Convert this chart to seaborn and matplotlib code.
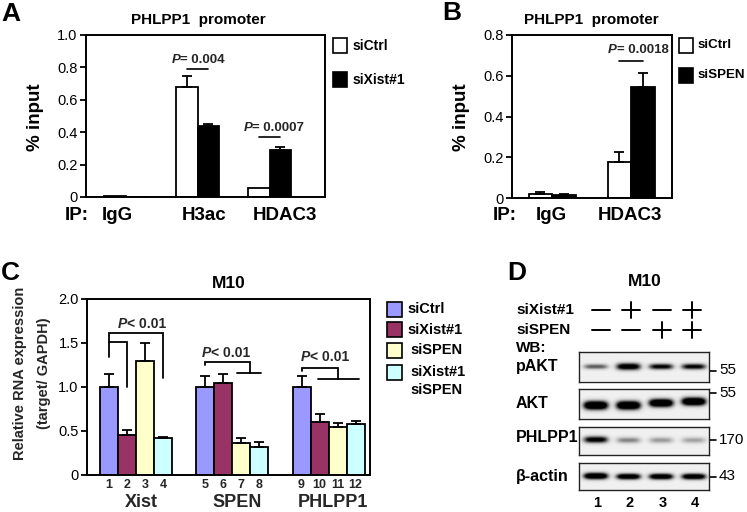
import numpy as np
import pandas as pd
import matplotlib
matplotlib.use("Agg")
import matplotlib.pyplot as plt
import seaborn as sns
from matplotlib.patches import Rectangle
from matplotlib.container import BarContainer
from matplotlib import font_manager

# ---------------- data ----------------
a_targets = ["IgG", "H3ac", "HDAC3"]
a_conditions = ["siCtrl", "siXist#1"]
a_ctrl = [0.005, 0.68, 0.055]
a_ctrl_err = [0.0, 0.07, 0.0]
a_xist = [0.001, 0.44, 0.29]
a_xist_err = [0.0, 0.008, 0.02]
a_pvals = {"H3ac": "0.004", "HDAC3": "0.0007"}

b_targets = ["IgG", "HDAC3"]
b_conditions = ["siCtrl", "siSPEN"]
b_ctrl = [0.02, 0.178]
b_ctrl_err = [0.008, 0.046]
b_spen = [0.013, 0.545]
b_spen_err = [0.005, 0.07]
b_pvals = {"HDAC3": "0.0018"}

c_genes = ["Xist", "SPEN", "PHLPP1"]
c_conditions = ["siCtrl", "siXist#1", "siSPEN", "siXist#1 siSPEN"]
c_siCtrl = [1.0, 1.0, 1.0]
c_siCtrl_err = [0.15, 0.13, 0.13]
c_siXist = [0.46, 1.05, 0.60]
c_siXist_err = [0.055, 0.10, 0.09]
c_siSPEN = [1.30, 0.36, 0.54]
c_siSPEN_err = [0.20, 0.06, 0.05]
c_both = [0.42, 0.32, 0.58]
c_both_err = [0.012, 0.05, 0.035]
c_colors = ["#9999FF", "#993366", "#FFFFCC", "#CCFFFF"]
c_ptext = "0.01"

d_lanes = [1, 2, 3, 4]
d_siXist = ["-", "+", "-", "+"]
d_siSPEN = ["-", "-", "+", "+"]
d_blots = ["pAKT", "AKT", "PHLPP1", "\u03b2-actin"]
d_markers = ["55", "55", "170", "43"]
d_intensity = {
    "pAKT": [0.6, 1.1, 0.95, 0.95],
    "AKT": [1.4, 1.4, 1.4, 1.4],
    "PHLPP1": [1.0, 0.45, 0.38, 0.35],
    "\u03b2-actin": [1.3, 1.2, 1.2, 1.2],
}
d_band_pos = {
    "pAKT": [0.52, 0.52, 0.52, 0.52],
    "AKT": [0.58, 0.58, 0.5, 0.45],
    "PHLPP1": [0.47, 0.49, 0.49, 0.49],
    "\u03b2-actin": [0.5, 0.52, 0.52, 0.52],
}
d_band_thick = {
    "pAKT": [0.09, 0.12, 0.1, 0.1],
    "AKT": [0.15, 0.15, 0.14, 0.14],
    "PHLPP1": [0.12, 0.11, 0.11, 0.11],
    "\u03b2-actin": [0.12, 0.11, 0.11, 0.11],
}

# ---------------- style ----------------
sns.set_theme(style="white")
avail = {f.name for f in font_manager.fontManager.ttflist}
fams = [f for f in ["Liberation Sans", "DejaVu Sans"] if f in avail]
plt.rcParams["font.family"] = fams

W, H = 747, 512
fig = plt.figure(figsize=(W / 100, H / 100), dpi=100)


def px_axes(l, t, r, b, **kw):
    return fig.add_axes([l / W, 1 - b / H, (r - l) / W, (b - t) / H], **kw)


ov = px_axes(0, 0, W, H)
ov.set_xlim(0, W)
ov.set_ylim(H, 0)
ov.axis("off")


def T(x, y, s, size, weight="bold", ha="center", va="center", **kw):
    ov.text(x, y, s, fontsize=size, fontweight=weight, ha=ha, va=va, color="black", **kw)


def style(ax, ticks, labels, ylim, xlim):
    for sp in ax.spines.values():
        sp.set_linewidth(1.4)
        sp.set_color("black")
    ax.set_ylim(*ylim)
    ax.set_xlim(*xlim)
    ax.set_yticks(ticks)
    ax.set_yticklabels(labels)
    ax.tick_params(axis="y", left=True, direction="out", length=4, width=1.3,
                   labelsize=10.5, pad=2, colors="black")
    ax.set_xticks([])
    ax.set_xlabel("")
    ax.set_ylabel("")
    ax.set_facecolor("white")


def bars(ax):
    return [c for c in ax.containers if isinstance(c, BarContainer)]


def add_err(ax, errs_list):
    for cont, errs in zip(bars(ax), errs_list):
        for bar, e in zip(cont, errs):
            if e > 0:
                x = bar.get_x() + bar.get_width() / 2
                ax.errorbar(x, bar.get_height(), yerr=[[0], [e]], fmt="none",
                            ecolor="black", elinewidth=1.3, capsize=3.5, capthick=1.3, zorder=1)


def pval(ax, xp, y, text, size):
    ax.text(xp, y, "P", fontsize=size, fontweight="bold", fontstyle="italic",
            ha="right", va="center")
    ax.text(xp, y, text, fontsize=size, fontweight="bold", ha="left", va="center")


def centers(ax):
    return [[b.get_x() + b.get_width() / 2 for b in cont] for cont in bars(ax)]


# ---------------- Panel A ----------------
dfA = pd.DataFrame({"target": a_targets * 2,
                    "cond": [a_conditions[0]] * 3 + [a_conditions[1]] * 3,
                    "value": a_ctrl + a_xist})
axA = px_axes(86, 35, 325, 197)
sns.barplot(data=dfA, x="target", y="value", hue="cond", palette=["white", "black"],
            edgecolor="black", linewidth=1.3, width=0.6, errorbar=None, legend=False,
            saturation=1, ax=axA)
add_err(axA, [a_ctrl_err, a_xist_err])
style(axA, [0, 0.2, 0.4, 0.6, 0.8, 1.0], ["0", "0.2", "0.4", "0.6", "0.8", "1.0"],
      (0, 1.0), (-0.55, 2.77))
cA = centers(axA)
for i, (tgt, ly, ty) in zip([1, 2], [("H3ac", 0.79, 0.845), ("HDAC3", 0.37, 0.425)]):
    axA.plot([cA[0][i], cA[1][i]], [ly, ly], color="black", lw=1.2)
    pval(axA, i - 0.24, ty, "= " + a_pvals[tgt], 9.5)

T(1, 14, "A", 19, ha="left")
T(198, 20, "PHLPP1  promoter", 11)
T(35, 117, "% input", 13.5, rotation=90)
for x, s in [(77, "IP:"), (117, "IgG"), (204, "H3ac"), (285, "HDAC3")]:
    T(x, 215, s, 13.5)
for yc, col, lab in [(45.5, "white", a_conditions[0]), (79.5, "black", a_conditions[1])]:
    ov.add_patch(Rectangle((333, yc - 7.5), 14, 15, facecolor=col, edgecolor="black", lw=1.2))
    T(353, yc, lab, 10, ha="left")

# ---------------- Panel B ----------------
dfB = pd.DataFrame({"target": b_targets * 2,
                    "cond": [b_conditions[0]] * 2 + [b_conditions[1]] * 2,
                    "value": b_ctrl + b_spen})
axB = px_axes(512, 35, 672, 198)
sns.barplot(data=dfB, x="target", y="value", hue="cond", palette=["white", "black"],
            edgecolor="black", linewidth=1.3, width=0.6, errorbar=None, legend=False,
            saturation=1, ax=axB)
add_err(axB, [b_ctrl_err, b_spen_err])
style(axB, [0, 0.2, 0.4, 0.6, 0.8], ["0", "0.2", "0.4", "0.6", "0.8"], (0, 0.8), (-0.51, 1.515))
cB = centers(axB)
axB.plot([cB[0][1], cB[1][1]], [0.673, 0.673], color="black", lw=1.2)
pval(axB, 1 - 0.18, 0.725, "= " + b_pvals["HDAC3"], 9.5)

T(442, 13, "B", 19, ha="left")
T(591, 20, "PHLPP1  promoter", 11)
T(462, 117, "% input", 13.5, rotation=90)
for x, s in [(505, "IP:"), (551, "IgG"), (630, "HDAC3")]:
    T(x, 215, s, 13.5)
for yc, col, lab in [(45.5, "white", b_conditions[0]), (75.5, "black", b_conditions[1])]:
    ov.add_patch(Rectangle((679, yc - 7.5), 14, 15, facecolor=col, edgecolor="black", lw=1.2))
    T(698, yc, lab, 9.6, ha="left")

# ---------------- Panel C ----------------
dfC = pd.DataFrame({"gene": c_genes * 4,
                    "cond": sum([[c] * 3 for c in c_conditions], []),
                    "value": c_siCtrl + c_siXist + c_siSPEN + c_both})
axC = px_axes(87, 299, 370, 475)
sns.barplot(data=dfC, x="gene", y="value", hue="cond", palette=c_colors,
            edgecolor="black", linewidth=1.3, width=0.75, errorbar=None, legend=False,
            saturation=1, ax=axC)
add_err(axC, [c_siCtrl_err, c_siXist_err, c_siSPEN_err, c_both_err])
style(axC, [0, 0.5, 1.0, 1.5, 2.0], ["0", "0.5", "1.0", "1.5", "2.0"], (0, 2.0), (-0.51, 2.43))
cC = centers(axC)  # cC[hue][gene]
trans = axC.get_xaxis_transform()
n = 1
for g in range(3):
    for h in range(4):
        axC.text(cC[h][g], -0.057, str(n), transform=trans, ha="center", va="center",
                 fontsize=9, fontweight="bold", clip_on=False)
        n += 1
    axC.text(g + 0.05, -0.156, c_genes[g], transform=trans, ha="center", va="center",
             fontsize=13, fontweight="bold", clip_on=False)

kw = dict(color="black", lw=1.3, solid_joinstyle="miter")
x1, x2, x4 = cC[0][0], cC[1][0], cC[3][0]
axC.plot([x1, x1, x4, x4], [1.345, 1.617, 1.617, 1.10], **kw)
axC.plot([x1, x2, x2], [1.508, 1.508, 1.0], **kw)
pval(axC, -0.09, 1.716, "< " + c_ptext, 10)
x5, x7, x8 = cC[0][1], cC[2][1], cC[3][1]
xm = (x7 + x8) / 2
axC.plot([x5, x5, xm, xm], [1.25, 1.288, 1.288, 1.16], **kw)
axC.plot([x7 - 0.05, x8 + 0.02], [1.16, 1.16], **kw)
pval(axC, 0.78, 1.39, "< " + c_ptext, 10)
x9, x10, x11, x12 = cC[0][2], cC[1][2], cC[2][2], cC[3][2]
axC.plot([x9, x9, x11, x11], [1.185, 1.22, 1.22, 1.09], **kw)
axC.plot([x10 - 0.02, x12 + 0.03], [1.09, 1.09], **kw)
pval(axC, 1.81, 1.34, "< " + c_ptext, 10)

T(1, 273, "C", 19, ha="left")
T(229, 283, "M10", 12.5)
ov.text(32, 373, "Relative RNA expression\n(target/ GAPDH)", rotation=90, ha="center",
        va="center", multialignment="center", fontsize=10.5, fontweight="bold",
        linespacing=1.95)
leg_y = [309, 329.5, 350.5, 372.5]
for yc, col in zip(leg_y, c_colors):
    ov.add_patch(Rectangle((387, yc - 7.5), 15, 15, facecolor=col, edgecolor="black", lw=1.2))
T(407, leg_y[0], c_conditions[0], 10.5, ha="left")
T(407, leg_y[1], c_conditions[1], 10.5, ha="left")
T(410, leg_y[2], c_conditions[2], 10.5, ha="left")
T(410, leg_y[3], c_conditions[3].split(" ")[0], 10.5, ha="left")
T(410, leg_y[3] + 17, c_conditions[3].split(" ")[1], 10.5, ha="left")

# ---------------- Panel D ----------------
T(507, 273, "D", 19, ha="left")
T(645, 282, "M10", 12.5)
sign_px = [601, 631, 662, 692]
T(516, 310, "siXist#1", 11, ha="left")
T(516, 330, "siSPEN", 11, ha="left")
for xp, a, b in zip(sign_px, d_siXist, d_siSPEN):
    for yy, s in [(310, a), (330, b)]:
        ov.plot([xp - 9, xp + 9], [yy, yy], color="black", lw=1.4)
        if s == "+":
            ov.plot([xp, xp], [yy - 8, yy + 8], color="black", lw=1.4)
T(516, 348, "WB:", 11, ha="left")

boxes = [(352, 381.5), (389, 418.5), (426.5, 455), (462.5, 490)]
label_y = [367, 404, 438, 477]
marker_y = [370.5, 393, 440, 476.5]
lane_px = [597, 630, 663, 695]
xs = np.linspace(0.49, 4.46, 300)
for blot, (top, bot), ly, my, mk in zip(d_blots, boxes, label_y, marker_y, d_markers):
    ax = px_axes(579, top, 709, bot)
    ys = np.linspace(0, 1, 80)
    X, Y = np.meshgrid(xs, ys)
    img = np.full(X.shape, 0.12)
    for lane, inten, pos, th in zip(d_lanes, d_intensity[blot], d_band_pos[blot], d_band_thick[blot]):
        prof_x = np.exp(-(np.abs(X - lane) / 0.38) ** 4)
        prof_y = np.exp(-((Y - pos) / th) ** 2)
        img += inten * prof_x * prof_y
    ax.imshow(np.clip(img, 0, 1), cmap="Greys", vmin=0, vmax=1.0, aspect="auto",
              extent=(0.49, 4.46, 1, 0), interpolation="bilinear")
    ax.set_xlim(0.49, 4.46)
    ax.set_ylim(1, 0)
    ax.set_xticks([])
    ax.set_yticks([])
    for sp in ax.spines.values():
        sp.set_linewidth(1.0)
        sp.set_color("#222222")
    T(516, ly, blot, 11.5, ha="left")
    ov.plot([709, 716], [my, my], color="black", lw=1.2)
    T(719, my, mk, 11, weight="normal", ha="left")

for xp, ln in zip(lane_px, d_lanes):
    T(xp, 503, str(ln), 10.5)

fig.savefig("out.png", dpi=100)
